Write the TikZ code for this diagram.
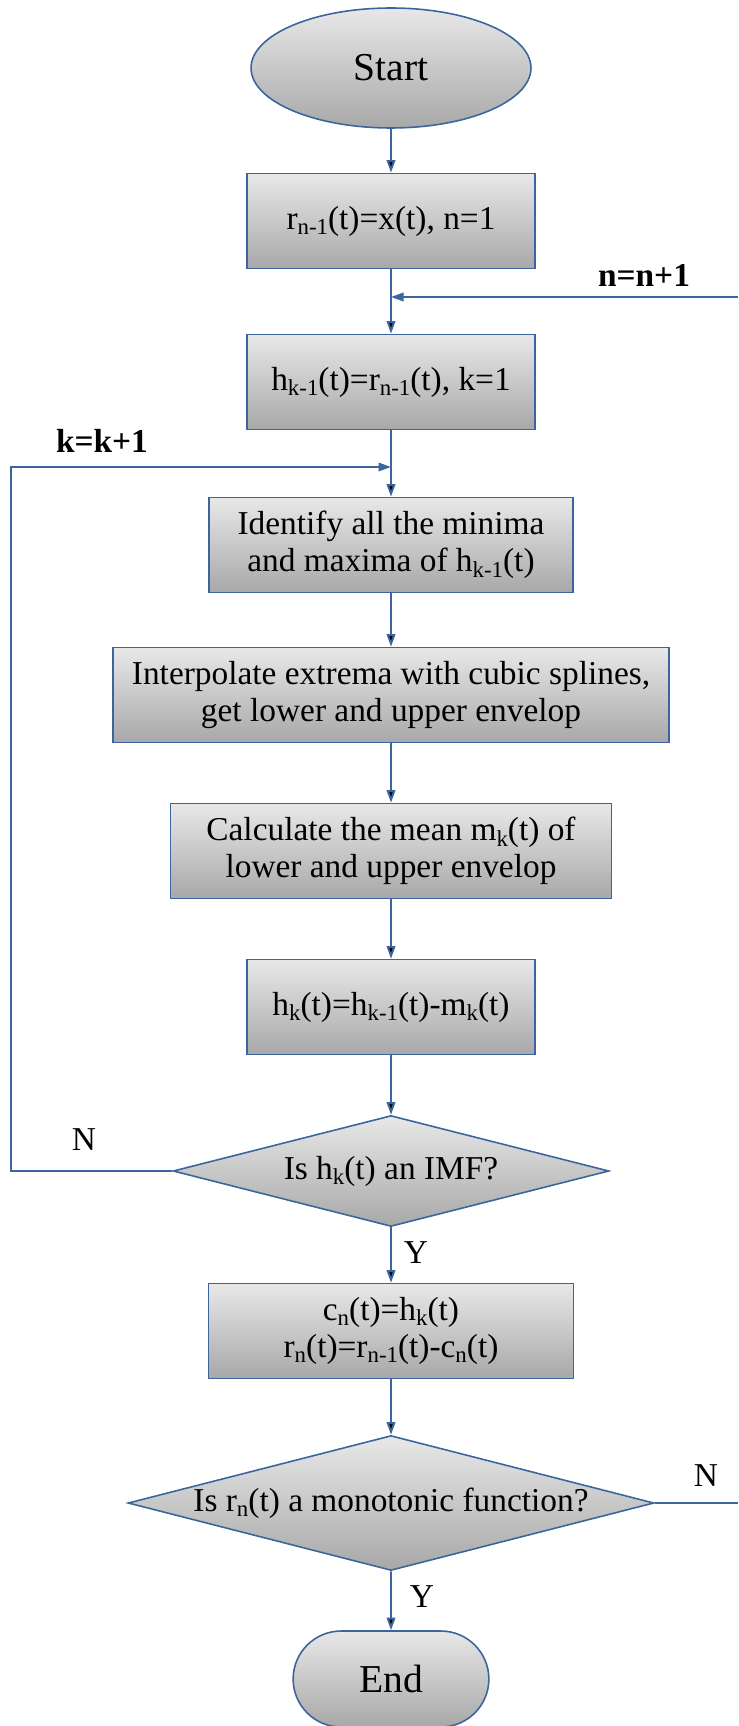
\documentclass[tikz,border=0pt]{standalone}
\usepackage{fontspec}
\setmainfont{Liberation Serif}
\usepackage{tikz}
\usetikzlibrary{shapes.geometric,shapes.misc,arrows.meta,positioning}

\definecolor{lineblue}{RGB}{60,100,158}
\definecolor{filltop}{RGB}{232,232,232}
\definecolor{fillbot}{RGB}{168,168,168}
\newcommand{\lo}[1]{\raisebox{-0.35ex}{\fontsize{13}{13}\selectfont#1}}

\tikzset{
	block/.style={shape=rectangle, draw=lineblue, line width=0.9pt, top color=filltop, bottom color=fillbot, minimum height=1.9cm, align=center, font=\fontsize{19}{21}\selectfont},
	decide/.style={shape=diamond, draw=lineblue, line width=0.9pt, top color=filltop, bottom color=fillbot, aspect=3.9, inner sep=0pt, font=\fontsize{19}{21}\selectfont},
	termin/.style={draw=lineblue, line width=0.9pt, top color=filltop, bottom color=fillbot, font=\fontsize{22.5}{24}\selectfont},
	flow/.style={draw=lineblue, line width=1.1pt, -{Triangle[length=0.25cm,width=0.17cm]}},
	tag/.style={font=\fontsize{19}{21}\selectfont, inner sep=0pt},
}

\begin{document}
\begin{tikzpicture}[x=0.02cm, y=-0.02cm]
	\useasboundingbox (0,0) rectangle (738,1726);

	\node[termin, shape=ellipse, minimum width=5.6cm, minimum height=2.4cm] (start) at (391,68) {Start};
	\node[block, minimum width=5.76cm] (init) at (391,221) {r\lo{n-1}(t)=x(t), n=1};
	\node[block, minimum width=5.76cm] (setk) at (391,382) {h\lo{k-1}(t)=r\lo{n-1}(t), k=1};
	\node[block, minimum width=7.28cm] (ident) at (391,545) {Identify all the minima\\and maxima of h\lo{k-1}(t)};
	\node[block, minimum width=11.12cm] (interp) at (391,695) {Interpolate extrema with cubic splines,\\get lower and upper envelop};
	\node[block, minimum width=8.82cm] (mean) at (391,851) {Calculate the mean m\lo{k}(t) of\\lower and upper envelop};
	\node[block, minimum width=5.76cm] (hk) at (391,1007) {h\lo{k}(t)=h\lo{k-1}(t)-m\lo{k}(t)};
	\node[decide, minimum width=8.72cm, minimum height=2.22cm] (imf) at (391,1171) {Is h\lo{k}(t) an IMF?};
	\node[block, minimum width=7.3cm] (setc) at (391,1331) {c\lo{n}(t)=h\lo{k}(t)\\r\lo{n}(t)=r\lo{n-1}(t)-c\lo{n}(t)};
	\node[decide, minimum width=10.52cm, minimum height=2.7cm] (mono) at (391,1503) {Is r\lo{n}(t) a monotonic function?};
	\node[termin, shape=rounded rectangle, minimum width=4.15cm, minimum height=1.92cm] (end) at (391,1679) {End};

	% loop points
	\coordinate (njoin) at (391,297);
	\coordinate (nright) at (738,297);
	\coordinate (kjoin) at (391,467);
	\coordinate (kleft) at (11,467);
	\coordinate (kdown) at (11,1171);
	\coordinate (nout) at (738,1503);

	\path [flow] (start) edge (init);
	\path [flow] (init) edge (setk);
	\path [flow] (setk) edge (ident);
	\path [flow] (ident) edge (interp);
	\path [flow] (interp) edge (mean);
	\path [flow] (mean) edge (hk);
	\path [flow] (hk) edge (imf);
	\path [flow] (imf) edge (setc);
	\path [flow] (setc) edge (mono);
	\path [flow] (mono) edge (end);
	\draw [flow] (nright) -- (njoin);
	\draw [flow] (imf.west) -- (kdown) -- (kleft) -- (kjoin);
	\draw [flow, -] (mono.east) -- (nout);

	\node[tag, font=\fontsize{19}{21}\selectfont\bfseries] (nlabel) at (644,275) {n=n+1};
	\node[tag, font=\fontsize{19}{21}\selectfont\bfseries] (klabel) at (102,441) {k=k+1};
	\node[tag] (nimf) at (84,1140) {N};
	\node[tag] (yimf) at (416,1253) {Y};
	\node[tag] (nmono) at (706,1476) {N};
	\node[tag] (ymono) at (422,1597) {Y};
\end{tikzpicture}
\end{document}
